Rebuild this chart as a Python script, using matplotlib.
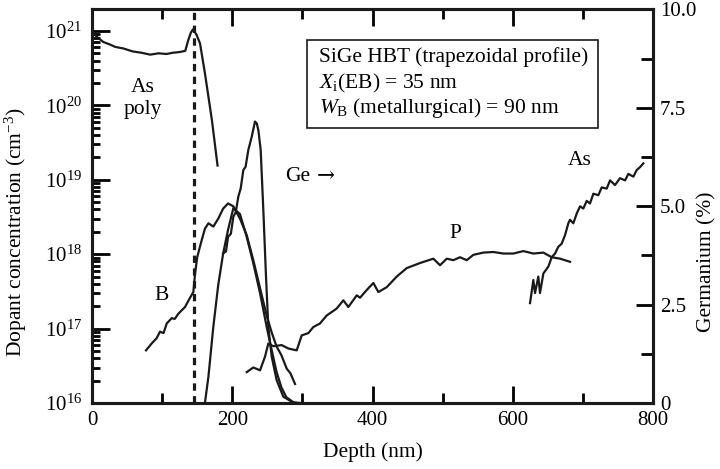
import numpy as np
import matplotlib
matplotlib.use("Agg")
import matplotlib.pyplot as plt
from matplotlib.patches import Rectangle
from matplotlib.ticker import FixedLocator

plt.rcParams['font.family'] = ['Liberation Serif', 'DejaVu Serif']
plt.rcParams['mathtext.fontset'] = 'custom'
plt.rcParams['mathtext.rm'] = 'Liberation Serif'
plt.rcParams['mathtext.it'] = 'Liberation Serif:italic'
plt.rcParams['font.size'] = 15

# As poly emitter (left axis, cm^-3)
as_poly_depth = [0, 8, 16, 25, 33, 45, 58, 70, 83, 95, 106, 116, 125, 133, 137, 141, 144, 149, 154, 161, 171, 179]
as_poly_conc = [9.5e20, 8.2e20, 7.1e20, 6.6e20, 6.1e20, 5.8e20, 5.3e20, 5.1e20, 4.8e20, 5.0e20, 4.9e20, 5.1e20,
                5.2e20, 5.4e20, 7.4e20, 9.5e20, 1.05e21, 8.9e20, 6.8e20, 2.7e20, 6.3e19, 1.55e19]

# boron base (left axis)
b_depth = [77, 85, 92, 97, 102, 106.5, 113.6, 118, 123, 132.6, 139.8, 144.5, 147, 150, 155, 161, 166, 173, 180,
           187, 194, 201.5, 211, 220.6, 230, 239.6, 249, 256, 263, 270, 277.6, 283, 289.5]
b_conc = [5.1e16, 6.3e16, 7.4e16, 9.1e16, 8.7e16, 1.17e17, 1.38e17, 1.35e17, 1.58e17, 1.95e17, 2.6e17, 3.1e17,
          5.5e17, 9.1e17, 1.38e18, 2.2e18, 2.6e18, 2.35e18, 3.0e18, 4.1e18, 4.8e18, 4.4e18, 3.0e18, 1.8e18,
          8.3e17, 3.5e17, 1.5e17, 9.0e16, 5.8e16, 4.4e16, 2.9e16, 2.5e16, 1.8e16]

# phosphorus collector (left axis)
p_depth = [220.6, 230, 239.6, 246.7, 251.4, 258.5, 270.5, 280, 291.9, 299, 308.5, 315.6, 325, 334.7, 348.9,
           358.4, 365.5, 377.5, 382.2, 391.7, 401.2, 408.3, 420.2, 434.5, 448.8, 467.7, 486.7, 496.3, 505.8,
           515.2, 524.8, 534.3, 543.8, 558, 572.3, 586.5, 600.8, 615.1, 629.3, 643.6, 655.5, 667.4, 681.6]
p_conc = [2.6e16, 3.0e16, 2.75e16, 4.2e16, 6.3e16, 5.8e16, 6.0e16, 5.4e16, 5.1e16, 8.1e16, 8.7e16, 1.05e17,
          1.17e17, 1.5e17, 1.86e17, 2.4e17, 1.95e17, 2.8e17, 2.6e17, 3.3e17, 4.1e17, 3.1e17, 3.6e17, 5.0e17,
          6.5e17, 7.6e17, 8.7e17, 7.1e17, 8.7e17, 8.3e17, 9.1e17, 8.3e17, 9.8e17, 1.05e18, 1.07e18, 1.02e18,
          1.02e18, 1.1e18, 1.02e18, 1.05e18, 9.1e17, 8.7e17, 7.9e17]

# arsenic subcollector (left axis)
as_sub_depth = [624.6, 629.3, 631.7, 636.4, 638.8, 643.6, 650.7, 655.5, 660.2, 665, 669.7, 674.5, 679.2, 681.6,
                686.3, 691.1, 695.9, 700.6, 705.4, 710.1, 714.9, 722, 726.8, 733.9, 738.7, 745.8, 752.9, 760.1,
                764.8, 771.9, 776.7, 781.5, 786.2]
as_sub_conc = [2.2e17, 4.5e17, 3.0e17, 5.0e17, 3.0e17, 5.5e17, 6.8e17, 9.1e17, 1.02e18, 1.26e18, 1.38e18,
               1.8e18, 2.6e18, 2.9e18, 2.6e18, 3.5e18, 4.4e18, 4.1e18, 5.2e18, 4.8e18, 6.5e18, 6.2e18, 7.9e18,
               7.6e18, 9.8e18, 8.5e18, 1.05e19, 9.8e18, 1.2e19, 1.1e19, 1.35e19, 1.48e19, 1.66e19]

# germanium (right axis, %)
ge_bell_depth = [161, 166, 173, 180, 187, 194, 201.5, 211, 220.6, 230, 239.6, 249, 254, 263, 270, 277, 287, 297]
ge_bell_pct = [0, 0.67, 1.94, 3.0, 3.8, 4.4, 4.95, 4.8, 4.22, 3.55, 2.79, 1.94, 1.52, 0.8, 0.4, 0.15, 0.02, 0]

ge_peak_depth = [187, 191, 194, 198, 201.5, 205, 208.6, 212, 215.8, 219, 222.9, 227.7, 230, 232.4, 235, 237.2,
                 240.5, 244.3, 248.1, 251.4, 256.2, 263.3, 272.8, 287]
ge_peak_pct = [3.8, 3.85, 4.22, 4.3, 4.73, 4.85, 5.24, 5.45, 5.92, 6.0, 6.43, 6.76, 6.95, 7.15, 7.1, 6.93,
               6.43, 4.9, 3.21, 1.94, 1.18, 0.58, 0.16, 0.01]

eb_junction = 145.5

ink = '#1a1a1a'
lw = 1.6

fig = plt.figure(figsize=(7.2, 4.69), dpi=100)
ax = fig.add_axes([0.1278, 0.1407, 0.7792, 0.8394])
ax.set_yscale('log')
ax.set_xlim(0, 800)
ax.set_ylim(1e16, 10 ** 21.29)

ax.plot(as_poly_depth, as_poly_conc, color=ink, lw=lw)
ax.plot(b_depth, b_conc, color=ink, lw=lw)
ax.plot(p_depth, p_conc, color=ink, lw=lw)
ax.plot(as_sub_depth, as_sub_conc, color=ink, lw=lw)
ax.axvline(eb_junction, color=ink, lw=2.3, linestyle=(0, (2.3, 1.7)))

ax2 = ax.twinx()
ax2.set_ylim(0, 10)
ax2.plot(ge_bell_depth, ge_bell_pct, color=ink, lw=lw)
ax2.plot(ge_peak_depth, ge_peak_pct, color=ink, lw=lw)

ax.set_xticks([0, 200, 400, 600, 800])
ax.xaxis.set_minor_locator(FixedLocator([100, 300, 500, 700]))
ax.tick_params(axis='x', which='both', direction='in', top=True, width=2, pad=6)
ax.tick_params(axis='x', which='major', length=12)
ax.tick_params(axis='x', which='minor', length=7)
ax.tick_params(axis='y', which='major', direction='in', length=13, width=2, pad=7)
ax.tick_params(axis='y', which='minor', direction='in', length=6, width=2)

ax2.set_yticks([0, 2.5, 5, 7.5, 10])
ax2.set_yticklabels(['0', '2.5', '5.0', '7.5', '10.0'])
ax2.yaxis.set_minor_locator(FixedLocator([1.25, 3.75, 6.25, 8.75]))
ax2.tick_params(axis='y', which='major', direction='in', length=12, width=2, pad=5)
ax2.tick_params(axis='y', which='minor', direction='in', length=8.5, width=2)

for a in (ax, ax2):
    for s in a.spines.values():
        s.set_linewidth(2.2)
        s.set_color(ink)

ax.set_xlabel('Depth (nm)', fontsize=15.5)
ax.xaxis.set_label_coords(0.5, -0.10)
ax.set_ylabel('Dopant concentration (cm$^{-3}$)', fontsize=15.5)
ax.yaxis.set_label_coords(-0.112, 0.434)
ax2.set_ylabel('Germanium (%)', fontsize=15.5)
ax2.yaxis.set_label_coords(1.078, 0.36)

ax.text(73, 1.23e20, 'As\npoly', ha='center', va='center', fontsize=15.5)
ax.text(99, 2.8e17, 'B', ha='center', va='center', fontsize=15.5)
ax.text(275, 1.1e19, 'Ge', ha='left', va='center', fontsize=15.5)
ax.text(321, 1.1e19, '\u2192', ha='left', va='center', fontsize=15.5, family='DejaVu Serif')
ax.text(518, 1.9e18, 'P', ha='center', va='center', fontsize=15.5)
ax.text(696, 1.8e19, 'As', ha='center', va='center', fontsize=15.5)

ax.add_patch(Rectangle((0.3838, 0.6977), 0.5187, 0.2243, transform=ax.transAxes,
                       fill=False, lw=1.2, edgecolor=ink, zorder=5))
ax.text(0.4046, 0.8669, 'SiGe HBT (trapezoidal profile)', transform=ax.transAxes,
        ha='left', va='baseline', fontsize=15.5)
ax.text(0.4046, 0.7995, r'$X_{\mathrm{i}}$(EB) = 35 nm', transform=ax.transAxes,
        ha='left', va='baseline', fontsize=15.5)
ax.text(0.4046, 0.7366, r'$W_{\mathrm{B}}$ (metallurgical) = 90 nm', transform=ax.transAxes,
        ha='left', va='baseline', fontsize=15.5)

fig.savefig('out.png', dpi=100)
